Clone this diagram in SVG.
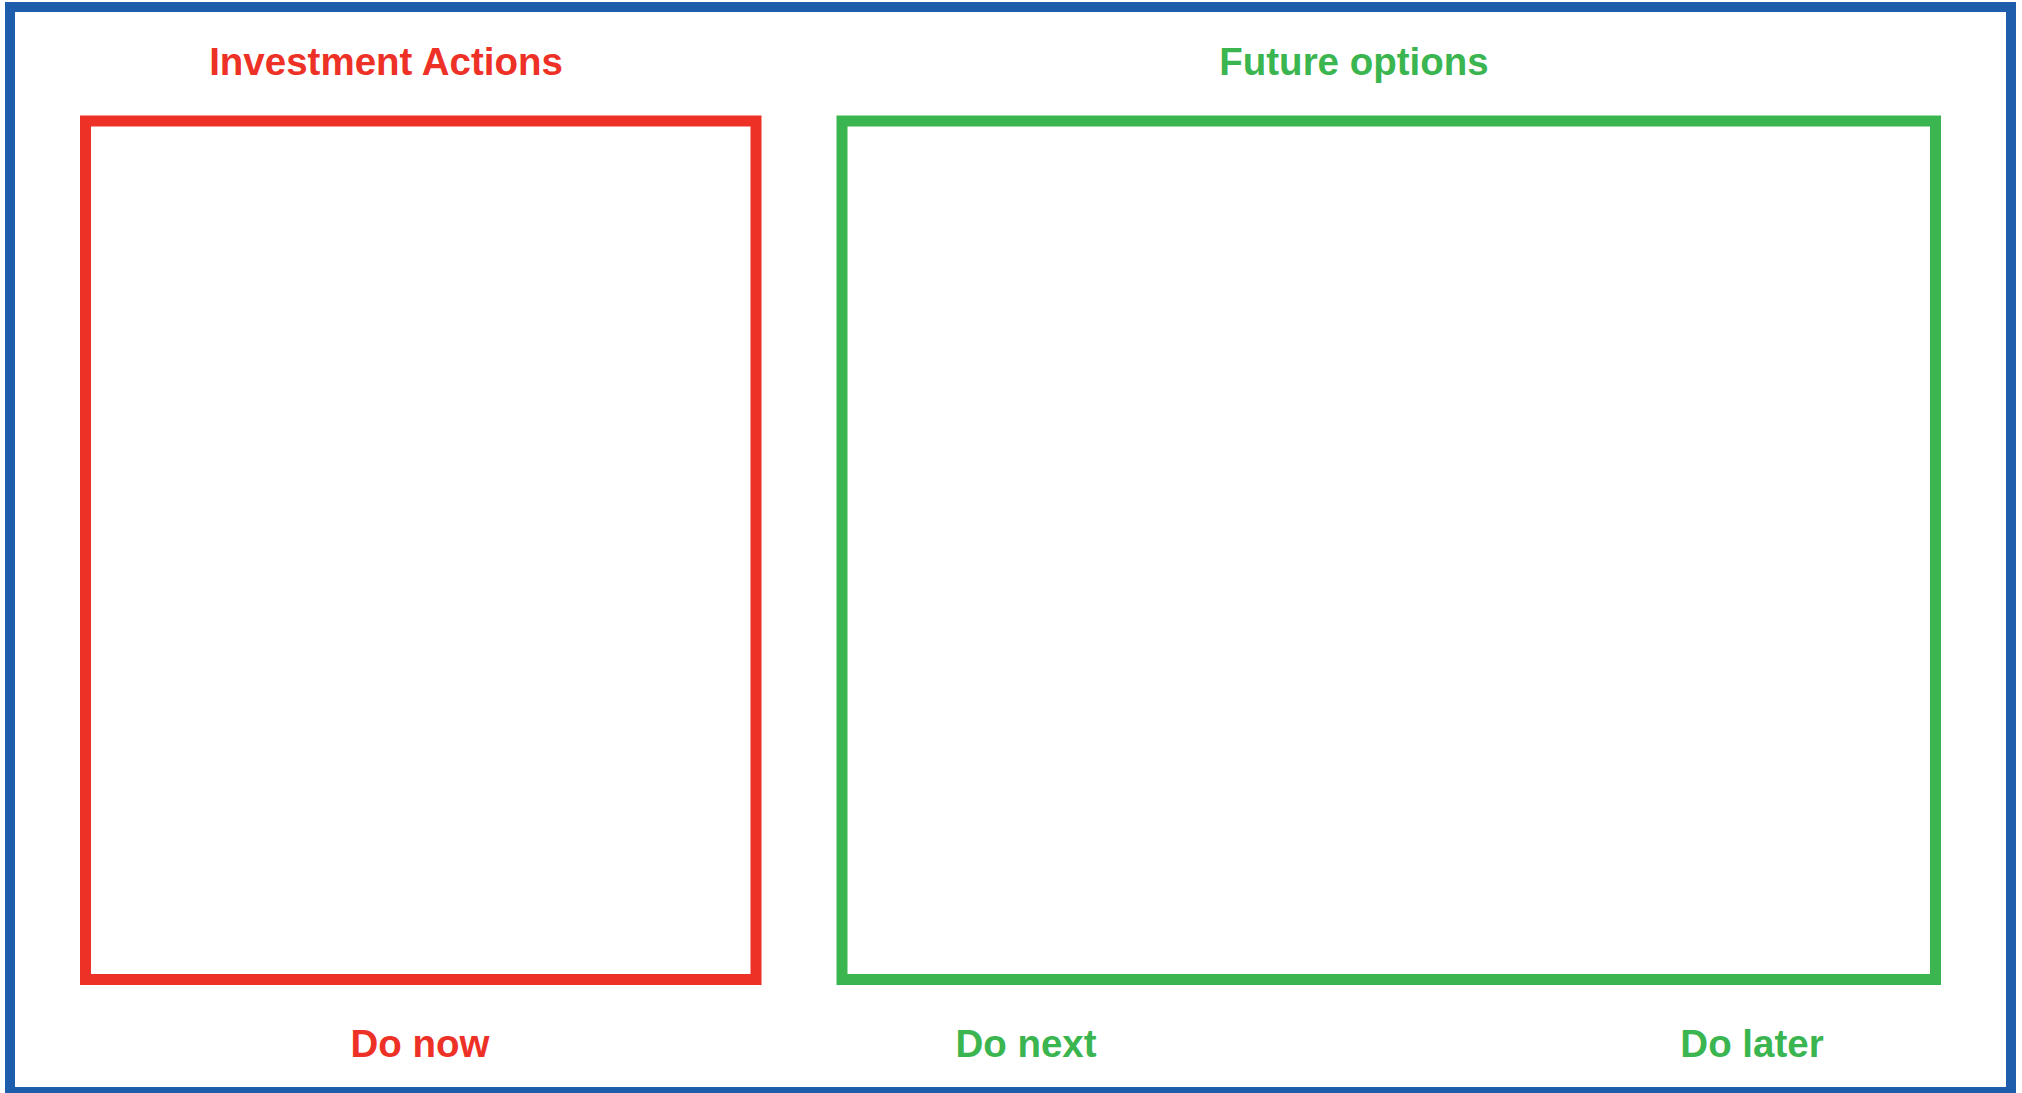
<svg xmlns="http://www.w3.org/2000/svg" width="2022" height="1093" viewBox="0 0 2022 1093">
<style>
.lbl{font-family:"Liberation Sans",Arial,sans-serif;font-weight:bold;font-size:38.5px;text-anchor:middle}
.red{fill:#EE3126}
.green{fill:#3AB54F}
.box{fill:none}
</style>
<rect x="0" y="0" width="2022" height="1093" fill="#ffffff"/>
<g id="frame"><rect x="10" y="7" width="2001" height="1085" fill="none" stroke="#1E5CAC" stroke-width="10"/></g>
<g id="investment-actions">
<rect class="box" x="85.5" y="121" width="670.5" height="858.5" stroke="#EE3126" stroke-width="11"/>
<text class="lbl red" x="386" y="75">Investment Actions</text>
<text class="lbl red" x="420" y="1057">Do now</text>
</g>
<g id="future-options">
<rect class="box" x="842" y="121" width="1093.5" height="858.5" stroke="#3AB54F" stroke-width="11"/>
<text class="lbl green" x="1354" y="75">Future options</text>
<text class="lbl green" x="1026" y="1057">Do next</text>
<text class="lbl green" x="1752" y="1057">Do later</text>
</g>
<g id="connectors"></g>
</svg>
